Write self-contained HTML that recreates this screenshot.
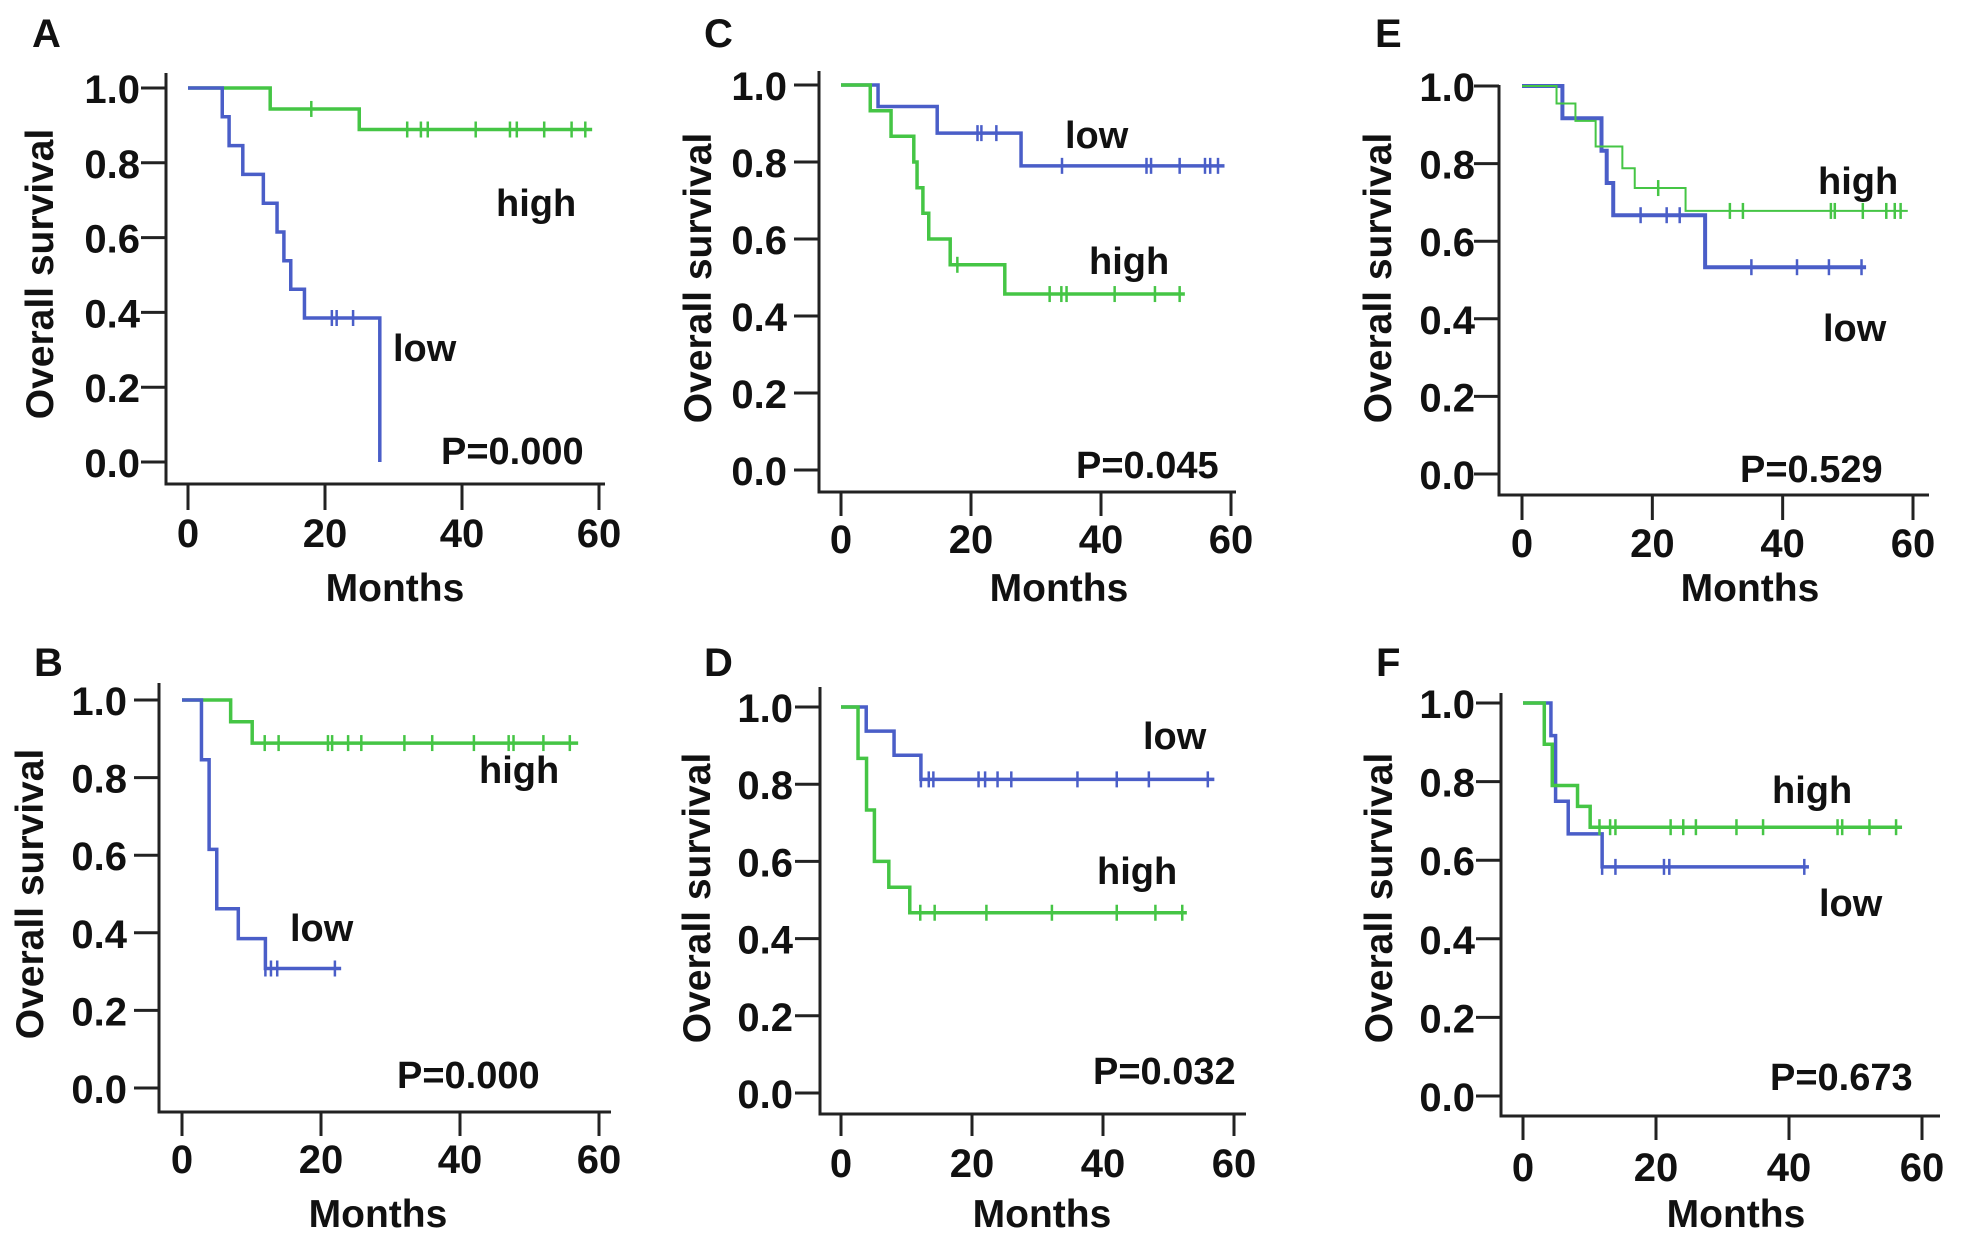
<!DOCTYPE html>
<html><head><meta charset="utf-8"><style>
html,body{margin:0;padding:0;background:#fff;}
svg{display:block;}
text{font-family:"Liberation Sans",Arial,sans-serif;font-weight:bold;fill:#111;}
</style></head><body>
<svg id="fig" width="1964" height="1239" viewBox="0 0 1964 1239" xmlns="http://www.w3.org/2000/svg"></svg>
<script>
// ---- data (months, survival) ----
const A_high_t=[12,25], A_high_s=[0.944,0.889], A_high_c=[18,32,34,35,42,47,48,52,56,58], A_high_end=59;
const A_low_t=[5,6,8,11,13,14,15,17,28], A_low_s=[0.923,0.846,0.769,0.692,0.615,0.538,0.462,0.385,0], A_low_c=[21,21.7,24.1], A_low_end=28;
const C_low_t=[5.7,14.8,27.7], C_low_s=[0.944,0.875,0.79], C_low_c=[21,21.6,23.9,34,47,47.7,52.1,56,56.8,58], C_low_end=59;
const C_high_t=[4.5,7.7,11.2,11.7,12.6,13.5,16.8,25.2], C_high_s=[0.933,0.867,0.8,0.733,0.667,0.6,0.533,0.457], C_high_c=[17.9,32.1,33.9,34.7,42.1,48.3,52.1], C_high_end=52.9;
const E_low_t=[6.2,12.2,13,14,28.1], E_low_s=[0.917,0.833,0.75,0.667,0.533], E_low_c=[18.2,22.2,24.2,35.2,42.2,47.1,52.1], E_low_end=52.8;
const E_high_t=[5.3,8.2,11.3,15.4,17.3,25.1], E_high_s=[0.955,0.91,0.844,0.788,0.737,0.678], E_high_c=[20.9,31.9,33.9,47.4,48,52.3,55.9,57.2,58.1], E_high_end=59.2;
const B_high_t=[7,10.1], B_high_s=[0.944,0.889], B_high_c=[11.9,13.9,21,21.6,23.9,25.8,32,36,42,47,47.7,52,55.8], B_high_end=57;
const B_low_t=[2.8,3.9,5,8.1,12], B_low_s=[0.846,0.615,0.462,0.385,0.308], B_low_c=[12,12.8,13.7,22], B_low_end=22.9;
const D_low_t=[3.85,8.1,12.2], D_low_s=[0.9375,0.875,0.8125], D_low_c=[12.2,13.4,14.1,21,22,23.9,26,36.1,42.1,47,56], D_low_end=57;
const D_high_t=[2.6,3.9,5.1,7.3,10.5], D_high_s=[0.867,0.733,0.6,0.533,0.467], D_high_c=[12.1,14.3,22.2,32.2,42.1,48,52.1], D_high_end=52.8;
const F_high_t=[3.2,4.4,8.2,10.1], F_high_s=[0.895,0.79,0.737,0.684], F_high_c=[11.5,13.1,13.9,22.2,24.1,26,32.1,36.1,47.3,48,52.1,56.1], F_high_end=57;
const F_low_t=[4.2,4.9,6.8,11.9], F_low_s=[0.917,0.75,0.667,0.583], F_low_c=[11.9,13.9,21.2,22,42.3], F_low_end=43;
const xTicks=[0,20,40,60];
const yTicks=[0,0.2,0.4,0.6,0.8,1.0];
const yTickLabels=["0.0","0.2","0.4","0.6","0.8","1.0"];

const GREEN="#45c545", BLUE="#4a5ec8";
const panels=[
 {id:"a",L:"A",ax:166,x0:188,x60:599,y1:88,y0:462,xa:484,top:73,right:605,tb:510,tlb:547,mb:601,mx:395,tr:140,ytx:39,yty:274,lx:32,lb:47,
  labels:[["high",496,216],["low",393,361],["P=0.000",441,464]],
  series:[[A_high_t,A_high_s,A_high_c,A_high_end,GREEN,3.5,"high"],[A_low_t,A_low_s,A_low_c,A_low_end,BLUE,3.5,"low"]]},
 {id:"c",L:"C",ax:819,x0:841,x60:1231,y1:85,y0:470,xa:492,top:71,right:1236,tb:516,tlb:553,mb:601,mx:1059,tr:787,ytx:697,yty:278,lx:704,lb:47,
  labels:[["low",1065,148],["high",1089,274],["P=0.045",1076,478]],
  series:[[C_low_t,C_low_s,C_low_c,C_low_end,BLUE,3.5,"low"],[C_high_t,C_high_s,C_high_c,C_high_end,GREEN,3.5,"high"]]},
 {id:"e",L:"E",ax:1499,x0:1522,x60:1913,y1:86,y0:474,xa:495,top:85,right:1929,tb:520,tlb:557,mb:601,mx:1750,tr:1475,ytx:1377,yty:278,lx:1375,lb:47,
  labels:[["high",1818,194],["low",1823,341],["P=0.529",1740,482]],
  series:[[E_low_t,E_low_s,E_low_c,E_low_end,BLUE,4,"low"],[E_high_t,E_high_s,E_high_c,E_high_end,GREEN,2,"high"]]},
 {id:"b",L:"B",ax:159,x0:182,x60:599,y1:700,y0:1088,xa:1112,top:683,right:611,tb:1136,tlb:1173,mb:1227,mx:378,tr:127,ytx:29,yty:894,lx:34,lb:676,
  labels:[["high",479,783],["low",290,941],["P=0.000",397,1088]],
  series:[[B_high_t,B_high_s,B_high_c,B_high_end,GREEN,3.5,"high"],[B_low_t,B_low_s,B_low_c,B_low_end,BLUE,3.5,"low"]]},
 {id:"d",L:"D",ax:820,x0:841,x60:1234,y1:707,y0:1093,xa:1114,top:687,right:1246,tb:1136,tlb:1177,mb:1227,mx:1042,tr:793,ytx:696,yty:898,lx:704,lb:676,
  labels:[["low",1143,749],["high",1097,884],["P=0.032",1093,1084]],
  series:[[D_low_t,D_low_s,D_low_c,D_low_end,BLUE,3.5,"low"],[D_high_t,D_high_s,D_high_c,D_high_end,GREEN,3.5,"high"]]},
 {id:"f",L:"F",ax:1501,x0:1523,x60:1922,y1:703,y0:1096,xa:1116,top:693,right:1940,tb:1140,tlb:1181,mb:1227,mx:1736,tr:1475,ytx:1378,yty:898,lx:1376,lb:676,
  labels:[["high",1772,803],["low",1819,916],["P=0.673",1770,1090]],
  series:[[F_low_t,F_low_s,F_low_c,F_low_end,BLUE,3.5,"low"],[F_high_t,F_high_s,F_high_c,F_high_end,GREEN,3.5,"high"]]}
];
const NS="http://www.w3.org/2000/svg";
const svg=document.getElementById("fig");
function mk(tag,attrs,parent){const e=document.createElementNS(NS,tag);for(const k in attrs)e.setAttribute(k,attrs[k]);parent.appendChild(e);return e;}
function survAt(ts,ss,t){let s=1;for(let i=0;i<ts.length;i++){if(ts[i]<=t)s=ss[i];}return s;}
panels.forEach(p=>{
  const g=mk("g",{},svg);
  
  
  const X=v=>p.x0+(p.x60-p.x0)*v/60;
  const Y=v=>p.y0+(p.y1-p.y0)*v;
  const lt=mk("text",{x:p.lx,y:p.lb,"font-size":40},g);lt.textContent=p.L;
  
  
  const ax=mk("path",{d:`M${p.ax},${p.top}V${p.xa}H${p.right}`,fill:"none",stroke:"#222","stroke-width":3},g);
  
  
  yTicks.forEach((v,i)=>{
    const tk=mk("line",{x1:p.ax-25,x2:p.ax,y1:Y(v),y2:Y(v),stroke:"#222","stroke-width":3},g);
    
    
    const t=mk("text",{x:p.tr,y:Y(v)+15,"font-size":40,"text-anchor":"end"},g);t.textContent=yTickLabels[i];
    
    
  });
  xTicks.forEach(v=>{
    const tk=mk("line",{x1:X(v),x2:X(v),y1:p.xa,y2:p.tb,stroke:"#222","stroke-width":3},g);
    
    
    const t=mk("text",{x:X(v),y:p.tlb,"font-size":40,"text-anchor":"middle"},g);t.textContent=String(v);
    
    
  });
  const xt=mk("text",{x:p.mx,y:p.mb,"font-size":39,"text-anchor":"middle"},g);xt.textContent="Months";
  
  
  const yt=mk("text",{x:0,y:0,"font-size":39,"text-anchor":"middle",transform:`translate(${p.ytx+14},${p.yty}) rotate(-90)`},g);yt.textContent="Overall survival";
  
  
  p.series.forEach(sr=>{
    const [ts,ss,cs,end,col,w,nm]=sr;
    let d=`M${X(0)},${Y(1)}`;
    for(let i=0;i<ts.length;i++){d+=`H${X(ts[i])}V${Y(ss[i])}`;}
    if(end>ts[ts.length-1]) d+=`H${X(end)}`;
    const pa=mk("path",{d:d,fill:"none",stroke:col,"stroke-width":w},g);
    
    
    cs.forEach(c=>{
      const yy=Y(survAt(ts,ss,c));
      const m=mk("line",{x1:X(c),x2:X(c),y1:yy-8,y2:yy+8,stroke:col,"stroke-width":2.5},g);
      
      
    });
  });
  p.labels.forEach(l=>{
    const t=mk("text",{x:l[1],y:l[2],"font-size":38},g);t.textContent=l[0];
    
    
  });
});
</script>
</body></html>
